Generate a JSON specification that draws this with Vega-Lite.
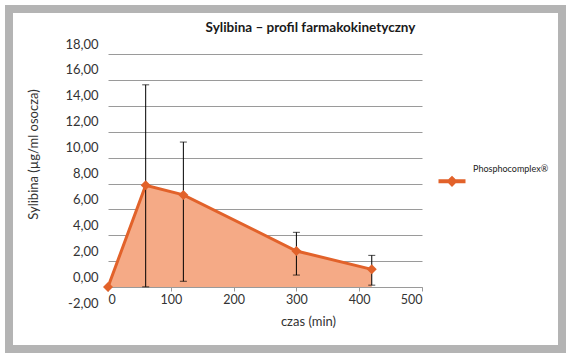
{
  "$schema": "https://vega.github.io/schema/vega-lite/v6.json",
  "autosize": "none",
  "width": 553,
  "height": 340,
  "padding": {"left": 9, "top": 9, "right": 10, "bottom": 4},
  "background": "white",
  "title": {
    "text": "Sylibina – profil farmakokinetyczny",
    "font": "Lato",
    "fontSize": 13.5,
    "fontWeight": "bold",
    "color": "#1a1a1a",
    "anchor": "middle",
    "frame": "group",
    "dx": 25,
    "dy": 29
  },
  "data": {
    "values": [
      {"czas": 0, "c": 0.0, "lo": null, "hi": null, "seria": "Phosphocomplex®"},
      {"czas": 60, "c": 7.87, "lo": 0.02, "hi": 15.62, "seria": "Phosphocomplex®"},
      {"czas": 120, "c": 7.12, "lo": 0.45, "hi": 11.2, "seria": "Phosphocomplex®"},
      {"czas": 300, "c": 2.79, "lo": 0.93, "hi": 4.23, "seria": "Phosphocomplex®"},
      {"czas": 420, "c": 1.37, "lo": 0.15, "hi": 2.45, "seria": "Phosphocomplex®"}
    ]
  },
  "encoding": {
    "x": {
      "field": "czas",
      "type": "quantitative",
      "scale": {"domain": [0, 500], "range": [99, 413], "nice": false, "zero": false},
      "axis": {
        "title": "czas (min)",
        "values": [0, 100, 200, 300, 400, 500],
        "offset": -62,
        "grid": false,
        "domainColor": "#9a9a9a",
        "tickColor": "#9a9a9a",
        "tickSize": 4,
        "labelPadding": 2,
        "labelFont": "Lato",
        "labelFontSize": 12.5,
        "labelColor": "#333333",
        "titleFont": "Lato",
        "titleFontSize": 13,
        "titleFontWeight": "normal",
        "titleColor": "#333333",
        "titleX": 299,
        "titleY": 34,
        "titleAlign": "center",
        "titleBaseline": "middle"
      }
    },
    "y": {
      "field": "c",
      "type": "quantitative",
      "scale": {"domain": [-2, 18], "range": [304, 45], "nice": false, "zero": false},
      "axis": {
        "title": "Sylibina (µg/ml osocza)",
        "values": [-2, 0, 2, 4, 6, 8, 10, 12, 14, 16, 18],
        "format": ".2f",
        "labelExpr": "replace(replace(datum.label, '.', ','), '−', '-')",
        "offset": -99,
        "domain": false,
        "ticks": false,
        "grid": true,
        "gridColor": "#9a9a9a",
        "gridOpacity": {"condition": {"test": "datum.value < -1", "value": 0}, "value": 1},
        "labelPadding": 10,
        "labelOffset": -10,
        "labelFont": "Lato",
        "labelFontSize": 13,
        "labelColor": "#333333",
        "titleFont": "Lato",
        "titleFontSize": 13,
        "titleFontWeight": "normal",
        "titleColor": "#333333",
        "titleX": -75,
        "titleY": 145,
        "titleAngle": -90,
        "titleAlign": "center",
        "titleBaseline": "middle"
      }
    }
  },
  "layer": [
    {
      "mark": {"type": "area", "color": "#f5aa86", "opacity": 1}
    },
    {
      "mark": {"type": "line", "color": "#e2622a", "strokeWidth": 3}
    },
    {
      "data": {"values": [{}]},
      "mark": {"type": "rule", "color": "#9a9a9a", "strokeWidth": 1},
      "encoding": {
        "x": {"datum": 0},
        "y": {"datum": 0},
        "y2": {"datum": 18}
      }
    },
    {
      "mark": {"type": "rule", "color": "black", "strokeWidth": 1},
      "encoding": {
        "y": {"field": "lo", "type": "quantitative"},
        "y2": {"field": "hi"}
      }
    },
    {
      "mark": {"type": "tick", "orient": "horizontal", "color": "black", "size": 7, "thickness": 1},
      "encoding": {"y": {"field": "lo", "type": "quantitative"}}
    },
    {
      "mark": {"type": "tick", "orient": "horizontal", "color": "black", "size": 7, "thickness": 1},
      "encoding": {"y": {"field": "hi", "type": "quantitative"}}
    },
    {
      "mark": {"type": "point", "shape": "diamond", "filled": true, "size": 100, "opacity": 1},
      "encoding": {
        "color": {
          "field": "seria",
          "type": "nominal",
          "scale": {"domain": ["Phosphocomplex®"], "range": ["#e2622a"]},
          "legend": {
            "title": null,
            "orient": "none",
            "legendX": 429.5,
            "legendY": 146,
            "padding": 0,
            "symbolType": "M-1,0.8H1V1.1H-1Z M0,0.53L0.42,0.95L0,1.37L-0.42,0.95Z",
            "symbolSize": 729,
            "symbolStrokeWidth": 0,
            "symbolOpacity": 1,
            "labelOffset": 7.5,
            "labelFont": "Lato",
            "labelFontSize": 9,
            "labelColor": "#222222"
          }
        }
      }
    }
  ],
  "config": {
    "view": {"stroke": "#b4b4b4", "strokeWidth": 8, "fill": "white"}
  }
}
